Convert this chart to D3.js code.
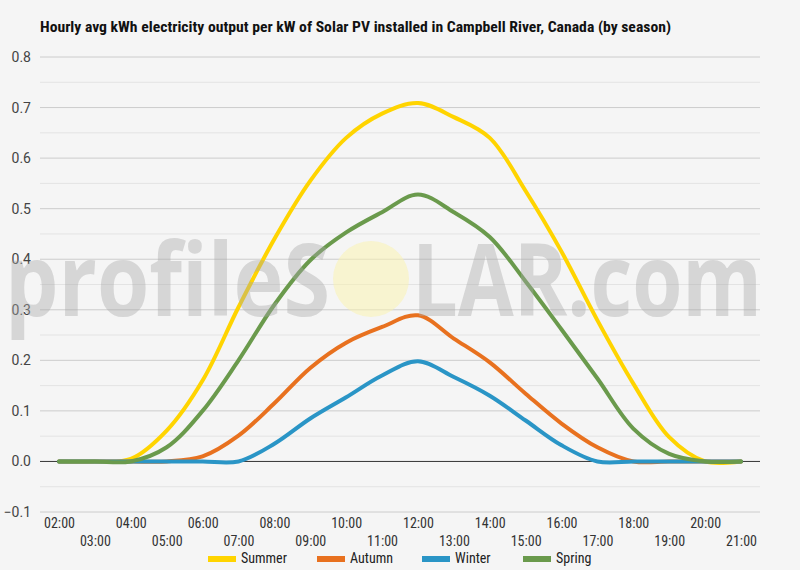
<!DOCTYPE html>
<html>
<head>
<meta charset="utf-8">
<script src="https://cdn.jsdelivr.net/npm/d3@7"></script>
<style>
  body { margin: 0; background: #f5f5f5; }
  svg { display: block; }
  text { font-family: "Roboto Condensed", "Liberation Sans Narrow", Roboto, sans-serif; }
</style>
</head>
<body>
<svg id="chart" width="800" height="570"></svg>
<script>
// hourly points, 02:00 .. 21:00
const hours = ["02:00","03:00","04:00","05:00","06:00","07:00","08:00","09:00","10:00","11:00",
               "12:00","13:00","14:00","15:00","16:00","17:00","18:00","19:00","20:00","21:00"];

const summer = [0, 0, 0.005, 0.061, 0.16, 0.305, 0.44, 0.555, 0.64, 0.688,
                0.709, 0.681, 0.64, 0.535, 0.415, 0.279, 0.154, 0.048, 0, 0];
const autumn = [0, 0, 0, 0, 0.01, 0.051, 0.115, 0.185, 0.235, 0.266,
                0.289, 0.243, 0.196, 0.134, 0.075, 0.028, 0, 0, 0, 0];
const winter = [0, 0, 0, 0, 0, 0, 0.035, 0.085, 0.127, 0.17,
                0.198, 0.167, 0.13, 0.081, 0.032, 0, 0, 0, 0, 0];
const spring = [0, 0, 0, 0.028, 0.10, 0.2, 0.31, 0.398, 0.453, 0.493,
                0.528, 0.493, 0.444, 0.356, 0.261, 0.164, 0.065, 0.015, 0, 0];

const seriesNames = ["Summer", "Autumn", "Winter", "Spring"];
const seriesColors = ["#ffd400", "#e8711f", "#2a95c6", "#6a9a4c"];
const yTicks = [-0.1, 0, 0.1, 0.2, 0.3, 0.4, 0.5, 0.6, 0.7, 0.8];

const title = "Hourly avg kWh electricity output per kW of Solar PV installed in Campbell River, Canada (by season)";

const svg = d3.select("#chart");
const plotLeft = 40, plotRight = 760, plotTop = 57, plotBottom = 512;

const x = d3.scalePoint().domain(hours).range([59, 741]);
const y = d3.scaleLinear().domain([-0.1, 0.8]).range([plotBottom, plotTop]);

// background
svg.append("rect").attr("width", 800).attr("height", 570).attr("fill", "#f5f5f5");

// title
svg.append("text")
  .attr("x", 40).attr("y", 32)
  .attr("font-size", 14).attr("font-weight", "bold").attr("fill", "#111")
  .attr("textLength", 631).attr("lengthAdjust", "spacingAndGlyphs")
  .text(title);

// minor gridlines (every 0.05)
const minor = d3.range(-0.05, 0.8, 0.1);
svg.append("g").selectAll("line").data(minor).join("line")
  .attr("x1", plotLeft).attr("x2", plotRight)
  .attr("y1", d => y(d)).attr("y2", d => y(d))
  .attr("stroke", "#e3e3e3").attr("stroke-width", 1);

// major gridlines
svg.append("g").selectAll("line").data(yTicks.filter(d => d !== 0)).join("line")
  .attr("x1", plotLeft).attr("x2", plotRight)
  .attr("y1", d => y(d)).attr("y2", d => y(d))
  .attr("stroke", "#cccccc").attr("stroke-width", 1);

// y axis labels
const yAxis = d3.axisLeft(y).tickValues(yTicks).tickFormat(d3.format(".1f")).tickSize(0).tickPadding(9);
const yg = svg.append("g").attr("transform", `translate(${plotLeft},0)`).call(yAxis);
yg.select(".domain").remove();
yg.selectAll("text").attr("font-size", 14).attr("fill", "#444")
  .style("font-family", "Roboto, sans-serif");

// zero baseline
svg.append("line")
  .attr("x1", plotLeft).attr("x2", plotRight)
  .attr("y1", y(0)).attr("y2", y(0))
  .attr("stroke", "#333").attr("stroke-width", 1);

// x axis, labels staggered over two rows
const xAxis = d3.axisBottom(x).tickSize(0).tickPadding(0);
const xg = svg.append("g").attr("transform", `translate(0,${plotBottom})`).call(xAxis);
xg.select(".domain").remove();
xg.selectAll("text")
  .attr("font-size", 14).attr("fill", "#333")
  .attr("dy", null)
  .attr("y", (d, i) => i % 2 === 0 ? 16 : 34);

// lines
const line = d3.line()
  .x((d, i) => x(hours[i]))
  .y(d => y(d))
  .curve(d3.curveCatmullRom);

const allSeries = [summer, autumn, winter, spring];
svg.append("g").selectAll("path").data(allSeries).join("path")
  .attr("d", d => line(d))
  .attr("fill", "none")
  .attr("stroke", (d, i) => seriesColors[i])
  .attr("stroke-width", 4)
  .attr("stroke-linejoin", "round")
  .attr("stroke-linecap", "round");

// watermark
const wm = svg.append("g").attr("pointer-events", "none");
wm.append("circle").attr("cx", 371).attr("cy", 279).attr("r", 38)
  .attr("fill", "#faf3b0").attr("opacity", 0.55);
wm.append("text").attr("x", 5).attr("y", 316)
  .attr("font-size", 100).attr("fill", "#a8a8a8").attr("opacity", 0.4)
  .style("font-family", "'Open Sans', sans-serif").style("font-weight", "bold")
  .attr("textLength", 325).attr("lengthAdjust", "spacingAndGlyphs")
  .text("profileS");
wm.append("text").attr("x", 412).attr("y", 316)
  .attr("font-size", 100).attr("fill", "#a8a8a8").attr("opacity", 0.4)
  .style("font-family", "'Open Sans', sans-serif").style("font-weight", "bold")
  .attr("textLength", 350).attr("lengthAdjust", "spacingAndGlyphs")
  .text("LAR.com");

// legend
const legendX = [208, 317, 422, 523];
const lg = svg.append("g").selectAll("g").data(seriesNames).join("g")
  .attr("transform", (d, i) => `translate(${legendX[i]},556)`);
lg.append("rect").attr("width", 28).attr("height", 6).attr("fill", (d, i) => seriesColors[i]);
lg.append("text").attr("x", 33).attr("y", 7)
  .attr("font-size", 14).attr("fill", "#222").text(d => d);
</script>
</body>
</html>
